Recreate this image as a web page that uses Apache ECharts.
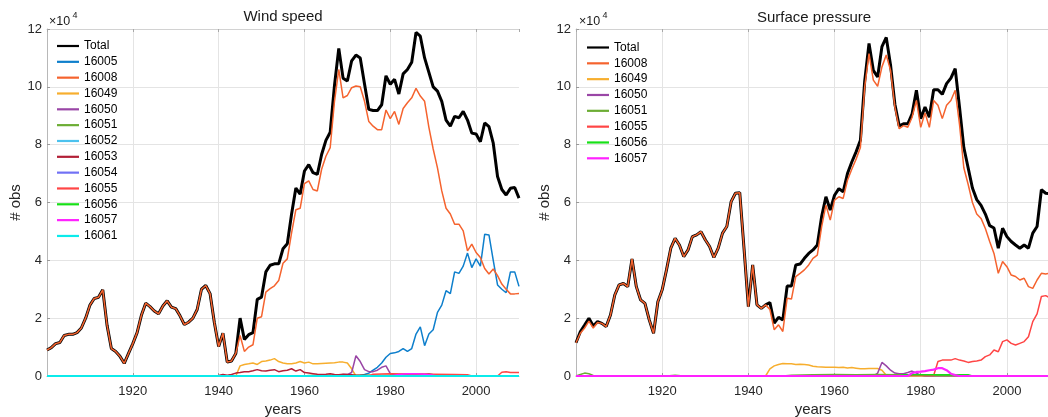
<!DOCTYPE html>
<html><head><meta charset="utf-8">
<script src="https://cdn.jsdelivr.net/npm/echarts@6/dist/echarts.min.js"></script>
<style>html,body{margin:0;padding:0;background:#fff}#c{width:1048px;height:417px}</style>
</head><body><div id="c"></div>
<script>
// ---------- data (values in units of 10^4 observations) ----------
const years = Array.from({length: 111}, (_, i) => 1900 + i); // 1900..2010
const yTicks = [0, 2, 4, 6, 8, 10, 12];

// Wind speed
const wsTotal = [
 0.90,0.98,1.12,1.16,1.40,1.44,1.44,1.50,1.66,2.00,
 2.45,2.68,2.72,2.98,1.75,0.95,0.85,0.68,0.44,0.78,
 1.12,1.50,2.10,2.52,2.40,2.25,2.15,2.42,2.60,2.38,
 2.33,2.08,1.78,1.86,2.00,2.30,3.00,3.13,2.85,1.85,
 1.02,1.48,0.48,0.52,0.78,2.00,1.26,1.43,1.50,2.65,
 2.73,3.60,3.83,3.88,3.88,4.40,4.57,5.60,6.50,6.29,
 7.09,7.31,7.03,6.97,7.66,8.15,8.43,10.05,11.33,10.30,
 10.20,10.90,11.10,11.00,10.10,9.22,9.18,9.18,9.38,10.38,
 10.09,10.26,9.75,10.45,10.60,10.85,11.88,11.75,11.00,10.50,
 10.00,9.85,9.50,8.85,8.64,8.98,8.93,9.15,8.85,8.40,
 8.37,8.10,8.75,8.62,8.05,6.90,6.45,6.26,6.49,6.52,6.15];
const ws16008 = [
 0.90,0.98,1.12,1.16,1.40,1.44,1.44,1.50,1.66,2.00,
 2.45,2.68,2.72,2.98,1.75,0.95,0.85,0.68,0.44,0.78,
 1.12,1.50,2.10,2.52,2.40,2.25,2.15,2.42,2.60,2.38,
 2.33,2.08,1.78,1.86,2.00,2.30,3.00,3.13,2.85,1.85,
 1.02,1.48,0.48,0.52,0.78,1.40,0.85,1.00,1.08,2.00,
 2.05,2.90,3.02,3.12,3.30,3.90,4.05,4.95,5.75,5.80,
 6.65,6.75,6.45,6.40,7.15,7.60,7.90,9.50,10.60,9.62,
 9.70,9.97,10.03,10.00,9.50,8.80,8.64,8.52,8.52,9.20,
 8.90,9.15,8.70,9.25,9.45,9.62,9.95,9.68,9.50,8.60,
 7.85,7.20,6.40,5.80,5.60,5.25,5.25,5.02,4.33,4.56,
 4.27,4.10,3.72,3.53,3.70,3.47,3.18,3.00,2.84,2.84,2.85];
const ws16005 = [[1900,0],[1972,0],[1973,0.02],[1974,0.05],[1975,0.1],[1976,0.2],[1977,0.3],[1978,0.45],[1979,0.65],[1980,0.78],[1981,0.8],[1982,0.85],[1983,0.95],[1984,0.85],[1985,0.95],[1986,1.45],[1987,1.7],[1988,1.05],[1989,1.45],[1990,1.6],[1991,2.2],[1992,2.45],[1993,2.95],[1994,2.85],[1995,3.6],[1996,3.55],[1997,3.8],[1998,4.25],[1999,3.75],[2000,4.05],[2001,3.8],[2002,4.9],[2003,4.88],[2004,4.0],[2005,3.15],[2006,3.0],[2007,2.88],[2008,3.6],[2009,3.6],[2010,3.1]];
const ws16049 = [[1900,0],[1944,0],[1945,0.35],[1946,0.4],[1947,0.42],[1948,0.45],[1949,0.4],[1950,0.5],[1951,0.52],[1952,0.55],[1953,0.6],[1954,0.5],[1955,0.45],[1956,0.42],[1957,0.42],[1958,0.45],[1959,0.5],[1960,0.45],[1961,0.48],[1962,0.42],[1963,0.42],[1964,0.43],[1965,0.44],[1966,0.45],[1967,0.46],[1968,0.48],[1969,0.48],[1970,0.45],[1971,0.25],[1972,0],[2010,0]];
const ws16050 = [[1900,0],[1968,0],[1969,0.05],[1970,0.05],[1971,0.12],[1972,0.7],[1973,0.5],[1974,0.22],[1975,0.15],[1976,0.15],[1977,0.2],[1978,0.3],[1979,0.35],[1980,0.08],[1981,0.05],[1982,0.04],[1983,0.05],[1984,0.06],[1985,0.05],[1986,0.05],[1987,0.07],[1988,0.06],[1989,0.08],[1990,0.04],[1991,0],[2010,0]];
const ws16051 = [[1900,0],[1960,0],[1961,0.02],[1965,0.03],[1970,0.02],[1975,0.03],[1980,0.02],[1985,0.01],[1986,0],[2010,0]];
const ws16052 = [[1900,0],[2010,0]];
const ws16053 = [[1900,0],[1939,0],[1940,0.02],[1941,0.05],[1942,0.03],[1943,0.05],[1944,0.1],[1945,0.12],[1946,0.15],[1947,0.15],[1948,0.18],[1949,0.22],[1950,0.18],[1951,0.17],[1952,0.2],[1953,0.22],[1954,0.15],[1955,0.18],[1956,0.2],[1957,0.25],[1958,0.17],[1959,0.22],[1960,0.12],[1961,0.1],[1962,0.08],[1963,0.06],[1964,0.05],[1965,0.06],[1966,0.08],[1967,0.05],[1968,0.04],[1969,0.06],[1970,0.05],[1971,0.04],[1972,0.03],[1973,0.03],[1974,0.02],[1975,0.02],[1976,0],[2010,0]];
const ws16054 = [[1900,0],[1980,0],[1983,0.03],[1986,0.05],[1989,0.04],[1991,0],[2010,0]];
const ws16055 = [[1900,0],[1975,0],[1976,0.06],[1980,0.08],[1985,0.07],[1990,0.06],[1995,0.05],[1998,0.04],[1999,0],[2005,0],[2006,0.13],[2007,0.15],[2008,0.12],[2009,0.12],[2010,0.12]];
const ws16056 = [[1900,0],[2010,0]];
const ws16057 = [[1900,0],[1980,0],[1982,0.05],[1984,0.08],[1986,0.08],[1988,0.06],[1990,0.03],[1991,0],[2010,0]];
const ws16061 = [[1900,0],[2010,0]];

// Surface pressure
const spTotal = [
 1.15,1.53,1.76,2.00,1.73,1.88,1.82,1.71,2.11,2.80,
 3.15,3.20,3.09,4.05,3.09,2.63,2.51,1.94,1.48,2.57,
 2.98,3.67,4.42,4.76,4.53,4.13,4.36,4.82,4.88,4.99,
 4.71,4.48,4.10,4.42,4.94,5.17,6.03,6.32,6.34,4.40,
 2.40,3.84,2.46,2.34,2.46,2.54,1.83,2.03,1.94,3.11,
 3.11,3.84,3.87,4.07,4.24,4.36,4.53,5.51,6.20,5.74,
 6.25,6.48,6.37,7.00,7.40,7.75,8.15,10.20,11.50,10.57,
 10.34,11.39,11.71,10.75,9.40,8.65,8.72,8.72,9.07,9.88,
 8.90,9.30,8.95,9.90,9.90,9.74,10.11,10.30,10.63,9.30,
 7.90,7.20,6.50,6.10,5.90,5.60,5.20,5.12,4.42,5.11,
 4.82,4.65,4.53,4.42,4.53,4.42,4.94,5.17,6.44,6.32,6.30];
const sp16008 = [
 1.15,1.48,1.66,1.90,1.66,1.85,1.82,1.71,2.11,2.80,
 3.15,3.20,3.09,4.05,3.09,2.63,2.51,1.94,1.48,2.57,
 2.98,3.67,4.42,4.76,4.53,4.13,4.36,4.82,4.88,4.99,
 4.71,4.48,4.10,4.42,4.94,5.17,6.03,6.32,6.34,4.40,
 2.40,3.84,2.46,2.34,2.46,2.30,1.60,1.77,1.54,2.69,
 2.66,3.44,3.55,3.67,3.84,4.07,4.18,5.16,5.91,5.39,
 6.08,6.20,6.14,6.77,7.15,7.50,7.90,10.00,11.15,10.23,
 10.02,10.69,11.10,10.57,9.30,8.55,8.66,8.60,8.95,9.53,
 8.60,9.10,8.60,9.53,9.36,8.90,9.36,9.53,9.88,8.70,
 7.20,6.63,6.00,5.60,5.45,5.10,4.65,4.24,3.55,3.96,
 3.78,3.49,3.44,3.32,3.38,3.09,3.03,3.32,3.55,3.53,3.55];
const sp16049 = [[1900,0],[1944,0],[1945,0.25],[1946,0.35],[1947,0.4],[1948,0.43],[1949,0.42],[1950,0.42],[1951,0.4],[1952,0.41],[1953,0.4],[1954,0.38],[1955,0.34],[1956,0.32],[1957,0.31],[1958,0.3],[1959,0.3],[1960,0.3],[1961,0.29],[1962,0.3],[1963,0.28],[1964,0.29],[1965,0.27],[1966,0.25],[1967,0.25],[1968,0.26],[1969,0.26],[1970,0.26],[1971,0.2],[1972,0.03],[1973,0],[2010,0]];
const sp16050 = [[1900,0],[1969,0],[1970,0.1],[1971,0.47],[1972,0.35],[1973,0.2],[1974,0.1],[1975,0.08],[1976,0.08],[1977,0.12],[1978,0.17],[1979,0.1],[1980,0.03],[1981,0],[2010,0]];
const sp16051 = [[1900,0],[1901,0.05],[1902,0.1],[1903,0.08],[1904,0.02],[1905,0],[1921,0],[1923,0.03],[1925,0],[1948,0],[1950,0.03],[1955,0.04],[1960,0.05],[1965,0.04],[1970,0.05],[1975,0.04],[1980,0.03],[1985,0.02],[1990,0],[2010,0]];
const sp16055 = [[1900,0],[1983,0.02],[1984,0.5],[1985,0.55],[1986,0.55],[1987,0.55],[1988,0.6],[1989,0.55],[1990,0.52],[1991,0.47],[1992,0.5],[1993,0.52],[1994,0.55],[1995,0.67],[1996,0.73],[1997,0.9],[1998,0.84],[1999,1.19],[2000,1.25],[2001,1.13],[2002,1.07],[2003,1.13],[2004,1.19],[2005,1.36],[2006,1.88],[2007,2.15],[2008,2.75],[2009,2.78],[2010,2.7]];
const sp16056 = [[1900,0],[1975,0],[1976,0.04],[1991,0.04],[1992,0],[2010,0]];
const sp16057 = [[1900,0],[1977,0],[1978,0.1],[1979,0.14],[1980,0.15],[1981,0.17],[1982,0.2],[1983,0.22],[1984,0.27],[1985,0.27],[1986,0.2],[1987,0.08],[1988,0.03],[1989,0],[2010,0]];

const titles = ['Wind speed', 'Surface pressure'];
const legendLeft = ['Total','16005','16008','16049','16050','16051','16052','16053','16054','16055','16056','16057','16061'];
const legendRight = ['Total','16008','16049','16050','16051','16055','16056','16057'];

// ---------- styling ----------
const colors = {
  'Total':'#000000','16005':'#0E7FCC','16008':'#F5632E','16049':'#F7AE2E','16050':'#9A46A6',
  '16051':'#6CAD34','16052':'#4CC2EE','16053':'#B21F36','16054':'#7171F5','16055':'#FF4545',
  '16056':'#17E017','16057':'#FF22FF','16061':'#0BEBEB'
};
const FONT = '"Liberation Sans", Arial, Helvetica, sans-serif';
const TXT = '#262626';
const pairs = vals => vals.map((v, i) => [years[i], v]);

const leftData = {'Total':pairs(wsTotal),'16005':ws16005,'16008':pairs(ws16008),'16049':ws16049,'16050':ws16050,
  '16051':ws16051,'16052':ws16052,'16053':ws16053,'16054':ws16054,'16055':ws16055,'16056':ws16056,'16057':ws16057,'16061':ws16061};
const rightData = {'Total':pairs(spTotal),'16008':pairs(sp16008),'16049':sp16049,'16050':sp16050,'16051':sp16051,
  '16055':sp16055,'16056':sp16056,'16057':sp16057};

function mkSeries(name, data, idx, lastName) {
  let w = name === 'Total' ? 3 : 1.5;
  if (name === lastName) w = 2.2;
  return {
    type:'line', name, data, xAxisIndex: idx*2, yAxisIndex: idx,
    showSymbol:false, symbol:'none', silent:true,
    lineStyle:{color:colors[name], width:w}, itemStyle:{color:colors[name]},
    emphasis:{disabled:true}
  };
}
const series = [];
legendLeft.forEach(n => series.push(mkSeries(n, leftData[n], 0, '16061')));
legendRight.forEach(n => series.push(mkSeries(n, rightData[n], 1, '16057')));

const grids = [
  {left:47, top:29, width:472, height:347, outerBoundsMode:'none', containLabel:false},
  {left:576, top:29, width:474, height:347, outerBoundsMode:'none', containLabel:false}
];
const xAxes = [], yAxes = [];
grids.forEach((g, i) => {
  xAxes.push({
    type:'value', gridIndex:i, min:1900, max:2010, interval:20, position:'bottom',
    axisLine:{show:true, lineStyle:{color:'#b8b8b8', width:1}},
    axisTick:{show:true, inside:true, length:3, lineStyle:{color:'#9a9a9a'}},
    axisLabel:{showMinLabel:false, showMaxLabel:false, margin:8.5, fontSize:13, color:TXT, fontFamily:FONT,
      formatter: v => String(v)},
    splitLine:{show:true, showMinLine:false, showMaxLine:false, lineStyle:{color:'#e4e4e4', width:1}},
    name:'years', nameLocation:'middle', nameGap:21,
    nameTextStyle:{fontSize:15, color:TXT, fontFamily:FONT}
  });
  xAxes.push({
    type:'value', gridIndex:i, min:1900, max:2010, interval:20, position:'top',
    axisLine:{show:true, lineStyle:{color:'#d2d2d2', width:1}},
    axisTick:{show:true, inside:true, length:3, lineStyle:{color:'#a8a8a8'}},
    axisLabel:{show:false}, splitLine:{show:false}
  });
  yAxes.push({
    type:'value', gridIndex:i, min:yTicks[0], max:yTicks[yTicks.length-1], interval:2,
    axisLine:{show:true, lineStyle:{color:'#b8b8b8', width:1}},
    axisTick:{show:true, inside:true, length:3, lineStyle:{color:'#9a9a9a'}},
    axisLabel:{margin:5, fontSize:13, color:TXT, fontFamily:FONT},
    splitLine:{show:true, showMinLine:false, lineStyle:{color:'#e4e4e4', width:1}},
    name:'# obs', nameLocation:'middle', nameGap:18, nameRotate:90,
    nameTextStyle:{fontSize:15, color:TXT, fontFamily:FONT}
  });
});

function txt(x, y, s, size, align) {
  return {type:'text', x, y, silent:true, z:100,
    style:{text:s, fontSize:size, fontFamily:FONT, fill:'#1a1a1a', textAlign:align||'left', textVerticalAlign:'middle', align:align||'left', verticalAlign:'middle'}};
}
const graphics = [
  txt(283, 17, titles[0], 15, 'center'),
  txt(814, 18, titles[1], 15, 'center'),
  txt(49, 22, '×10', 12.5), txt(72.5, 16, '4', 9),
  txt(579, 22, '×10', 12.5), txt(602.5, 16, '4', 9)
];

const legendCommon = {
  orient:'vertical', icon:'rect', itemWidth:22, itemHeight:2.2, itemGap:1.83,
  textStyle:{fontSize:12, color:'#000', fontFamily:FONT, lineHeight:14},
  selectedMode:false, padding:0
};

const chart = echarts.init(document.getElementById('c'), null, {renderer:'canvas'});
chart.setOption({
  animation:false,
  backgroundColor:'#ffffff',
  textStyle:{fontFamily:FONT},
  grid:grids, xAxis:xAxes, yAxis:yAxes,
  legend:[
    Object.assign({left:57, top:39, data:legendLeft}, legendCommon),
    Object.assign({left:587, top:40.5, data:legendRight}, legendCommon)
  ],
  graphic:graphics,
  series
});
</script></body></html>
